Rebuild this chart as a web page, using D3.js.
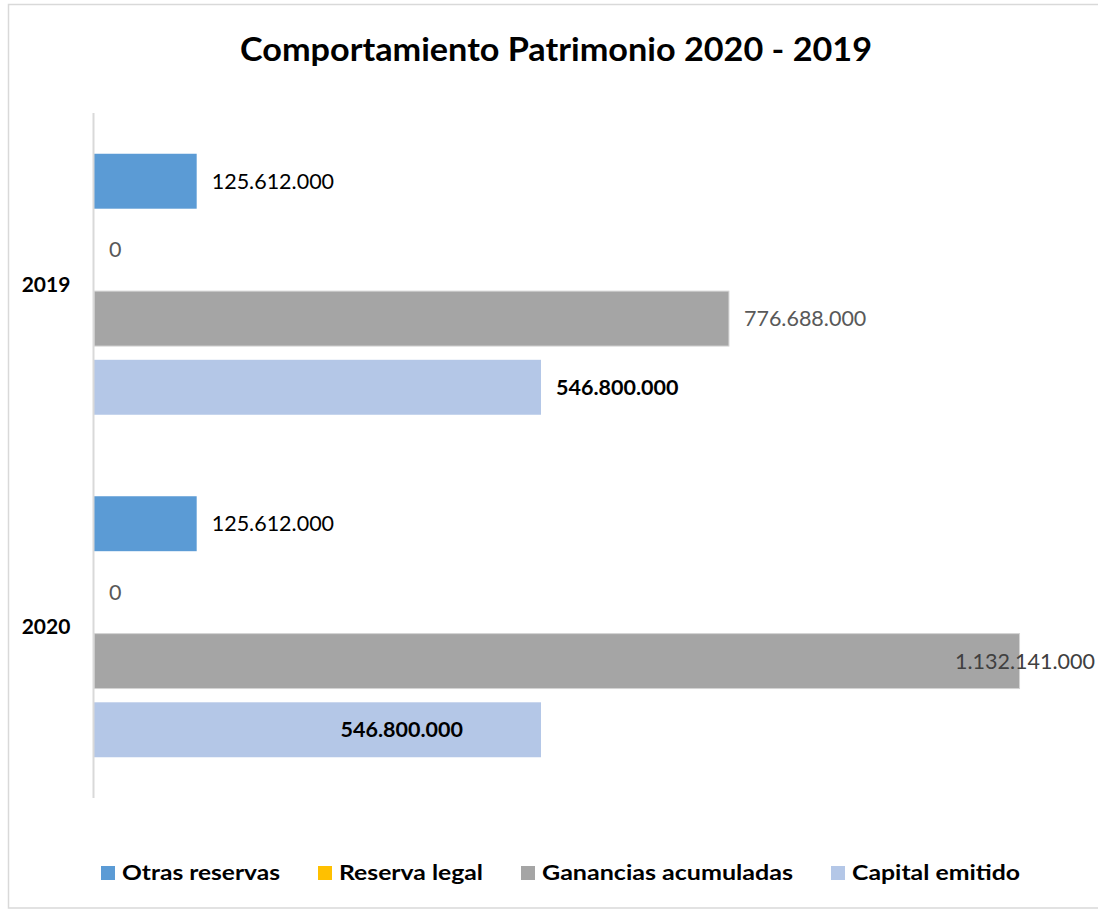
<!DOCTYPE html>
<html>
<head>
<meta charset="utf-8">
<script src="https://cdn.jsdelivr.net/npm/d3@7"></script>
<style>
  body { margin: 0; background: #fff; }
  svg { display: block; font-family: Lato, "Open Sans", sans-serif; }
</style>
</head>
<body>
<div id="chart"></div>
<script>
(function(){
    'use strict';

    // data
    var years = ['2019', '2020'];
    var seriesNames = ['Otras reservas', 'Reserva legal', 'Ganancias acumuladas', 'Capital emitido'];
    var seriesColors = ['#5b9bd5', '#ffc000', '#a5a5a5', '#b4c7e7'];
    var otrasReservas = [125612000, 125612000];
    var reservaLegal = [0, 0];
    var gananciasAcumuladas = [776688000, 1132141000];
    var capitalEmitido = [546800000, 546800000];
    var valueMax = 1200000000;

    var width = 1098, height = 911;
    var plot = {left: 94, right: 1075, top: 113, bottom: 798};

    var svg = d3.select('#chart').append('svg')
        .attr('width', width).attr('height', height);

    // chart border (right side runs off the page)
    svg.append('rect')
        .attr('x', 8.5).attr('y', 4.5)
        .attr('width', 1200).attr('height', 903.5)
        .attr('fill', 'none').attr('stroke', '#d9d9d9').attr('stroke-width', 1.5);

    svg.append('text')
        .attr('x', 556).attr('y', 61)
        .attr('text-anchor', 'middle')
        .attr('font-weight', 'bold').attr('font-size', 32.5)
        .attr('textLength', 632).attr('lengthAdjust', 'spacingAndGlyphs')
        .attr('fill', '#000')
        .text('Comportamiento Patrimonio 2020 - 2019');

    var x = d3.scaleLinear().domain([0, valueMax]).range([plot.left, plot.right]);
    var yCat = d3.scaleBand().domain(years).range([plot.top, plot.bottom]);
    var ySer = d3.scaleBand().domain(seriesNames)
        .range([40.75, yCat.bandwidth() - 40.75]).paddingInner(0.2);

    var allSeries = [otrasReservas, reservaLegal, gananciasAcumuladas, capitalEmitido];
    var rows = [];
    years.forEach(function(yr, i) {
        seriesNames.forEach(function(s, j) {
            rows.push({year: yr, series: s, idx: j, value: allSeries[j][i]});
        });
    });

    var fmt = function(v) { return d3.format(',')(v).replace(/,/g, '.'); };

    svg.selectAll('rect.bar').data(rows).enter().append('rect')
        .attr('class', 'bar')
        .attr('x', x(0))
        .attr('y', function(d) { return yCat(d.year) + ySer(d.series); })
        .attr('width', function(d) { return x(d.value) - x(0); })
        .attr('height', ySer.bandwidth())
        .attr('fill', function(d) { return seriesColors[d.idx]; })
        .attr('stroke', function(d) { return d.idx === 2 ? '#d4d4d4' : 'none'; })
        .attr('stroke-width', 1);

    // axis line
    svg.append('line')
        .attr('x1', x(0) - 0.5).attr('x2', x(0) - 0.5)
        .attr('y1', plot.top).attr('y2', plot.bottom)
        .attr('stroke', '#d9d9d9').attr('stroke-width', 2);

    // category labels
    svg.selectAll('text.cat').data(years).enter().append('text')
        .attr('class', 'cat')
        .attr('x', 46).attr('y', function(d) { return yCat(d) + yCat.bandwidth() / 2; })
        .attr('dy', '0.35em').attr('text-anchor', 'middle')
        .attr('font-weight', 'bold').attr('font-size', 21)
        .text(function(d) { return d; });

    // data labels
    var labelColors = ['#000', '#595959', '#595959', '#000'];
    svg.selectAll('text.lbl').data(rows).enter().append('text')
        .attr('class', 'lbl')
        .attr('x', function(d) {
            if (d.idx === 3 && d.year === '2020') return x(d.value) - 78;
            if (x(d.value) + 16 + 138 > width) return width - 3;
            return x(d.value) + 15;
        })
        .attr('text-anchor', function(d) {
            if (d.idx === 3 && d.year === '2020') return 'end';
            if (x(d.value) + 16 + 138 > width) return 'end';
            return 'start';
        })
        .attr('y', function(d) { return yCat(d.year) + ySer(d.series) + ySer.bandwidth() / 2; })
        .attr('dy', '0.35em')
        .attr('font-size', 21.5)
        .attr('font-weight', function(d) { return d.idx === 3 ? 'bold' : 'normal'; })
        .attr('fill', function(d) {
            if (d.idx === 2 && d.value > 1000000000) return '#404040';
            return labelColors[d.idx];
        })
        .text(function(d) { return fmt(d.value); });

    // legend
    var legendX = [101, 318, 521, 831];
    var legendW = [158, 144, 251, 168];
    var lg = svg.selectAll('g.legend').data(seriesNames).enter().append('g')
        .attr('class', 'legend')
        .attr('transform', function(d, i) { return 'translate(' + legendX[i] + ',873)'; });
    lg.append('rect')
        .attr('x', 0).attr('y', -7).attr('width', 14).attr('height', 14)
        .attr('fill', function(d, i) { return seriesColors[i]; });
    lg.append('text')
        .attr('x', 21).attr('dy', '0.35em')
        .attr('font-weight', 'bold').attr('font-size', 21)
        .attr('textLength', function(d, i) { return legendW[i]; })
        .attr('lengthAdjust', 'spacingAndGlyphs')
        .text(function(d) { return d; });
})();
</script>
</body>
</html>
